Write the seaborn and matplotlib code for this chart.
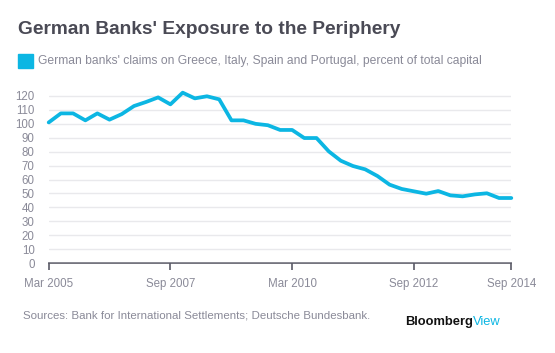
import numpy as np
import pandas as pd
import matplotlib
matplotlib.use("Agg")
import matplotlib.pyplot as plt
import seaborn as sns

# ---- data ----
quarters = pd.period_range("2005Q1", "2014Q3", freq="Q")
claims_pct = [101, 107.5, 107.5, 102.5, 107.5, 103, 107, 112.8, 115.7, 119,
              114, 122.4, 118.3, 119.8, 117.6, 102.5, 102.5, 100, 99, 95.6,
              95.6, 89.8, 89.8, 80.2, 73.5, 69.7, 67.3, 62.5, 56.3, 53.2,
              51.5, 49.8, 51.7, 48.6, 47.9, 49.3, 50.1, 46.7, 46.7]
tick_labels = ["Mar 2005", "Sep 2007", "Mar 2010", "Sep 2012", "Sep 2014"]
y_ticks = list(range(0, 121, 10))

title = "German Banks' Exposure to the Periphery"
legend_label = "German banks' claims on Greece, Italy, Spain and Portugal, percent of total capital"
source = "Sources: Bank for International Settlements; Deutsche Bundesbank."

LINE = "#0cb6e3"
GRAY = "#8a8a98"
DARK = "#4a4a55"

df = pd.DataFrame({"date": quarters.end_time.normalize(), "value": claims_pct})

sns.set_theme(style="white")
plt.rcParams["font.family"] = ["Liberation Sans", "DejaVu Sans"]

YMAX = 124
px_per_unit = (263 - 96) / 120
top_px = 263 - YMAX * px_per_unit
fig = plt.figure(figsize=(5.55, 3.53), dpi=100)
ax = fig.add_axes([48.7 / 555, (353 - 263) / 353, (511.3 - 48.7) / 555, (263 - top_px) / 353])

sns.lineplot(data=df, x="date", y="value", ax=ax, color=LINE, linewidth=2.7,
             legend=False)
for ln in ax.lines:
    ln.set_clip_on(False)
    ln.set_solid_joinstyle("round")

ax.set_ylim(0, YMAX)
ax.set_xlim(df["date"].iloc[0], df["date"].iloc[-1])
ax.set_yticks(y_ticks)
ax.set_yticklabels([str(v) for v in y_ticks])
tick_dates = [pd.Period(pd.to_datetime(lbl, format="%b %Y"), freq="Q").end_time.normalize()
              for lbl in tick_labels]
ax.set_xticks(tick_dates)
ax.set_xticklabels(tick_labels)

ax.grid(axis="y", color="#e9e9ec", linewidth=1.0)
ax.grid(axis="x", visible=False)
for s in ["top", "right", "left"]:
    ax.spines[s].set_visible(False)
ax.spines["bottom"].set_color("#5a5a66")
ax.spines["bottom"].set_linewidth(1.2)
ax.spines["bottom"].set_zorder(0.5)
ax.tick_params(axis="y", length=0, pad=10, labelsize=8.3, labelcolor=GRAY)
ax.tick_params(axis="x", length=5, width=1.2, color="#5a5a66", pad=6,
               labelsize=8.3, labelcolor=GRAY, direction="out", bottom=True)
ax.set_xlabel("")
ax.set_ylabel("")

# title and legend
fig.text(18 / 555, 1 - 30 / 353, title, fontsize=13.8, fontweight="bold",
         color=DARK, va="center", ha="left")
fig.patches.append(plt.Rectangle((18 / 555, 1 - 68 / 353), 15 / 555, 14 / 353,
                                 transform=fig.transFigure, color=LINE))
fig.text(38 / 555, 1 - 61 / 353, legend_label, fontsize=8.7, color=GRAY,
         va="center", ha="left")

# footer
fig.text(23 / 555, 1 - 316 / 353, source, fontsize=8.25, color=GRAY,
         va="center", ha="left")
t1 = fig.text(405 / 555, 1 - 322 / 353, "Bloomberg", fontsize=9.3,
              fontweight="bold", color="#111111", va="center", ha="left")
fig.canvas.draw()
bb = t1.get_window_extent()
fig.text(bb.x1 / fig.bbox.width, 1 - 322 / 353, "View", fontsize=9.3,
         color=LINE, va="center", ha="left")

fig.savefig("out.png", dpi=100)
